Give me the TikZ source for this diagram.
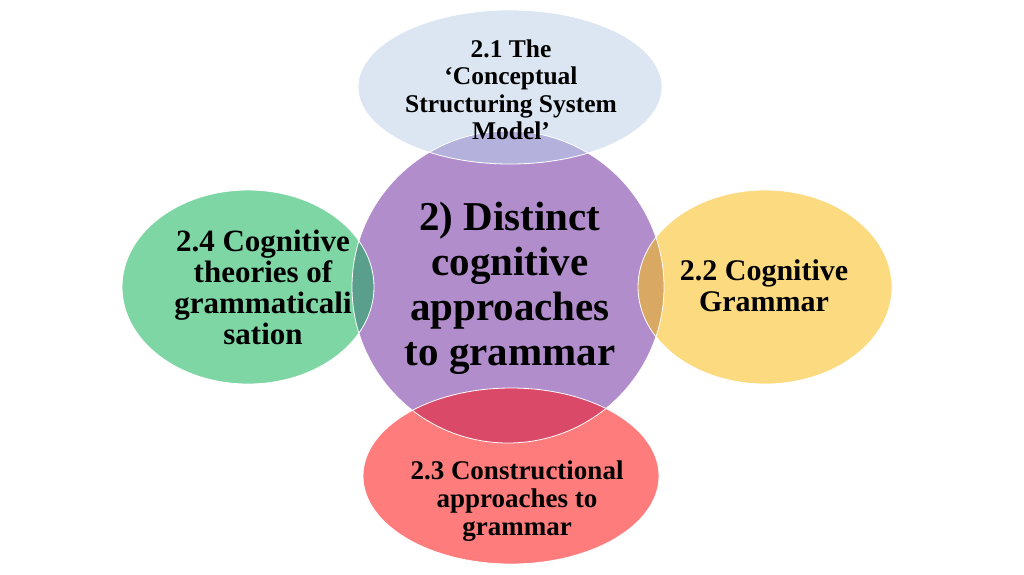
\documentclass[tikz,border=0pt]{standalone}
\usepackage{fontspec}
\setmainfont{Liberation Serif}
\definecolor{cpurple}{HTML}{B28DCC}
\definecolor{ctop}{HTML}{DCE6F2}
\definecolor{ctopov}{HTML}{B4B2DC}
\definecolor{cgreen}{HTML}{7FD6A5}
\definecolor{cgreenov}{HTML}{5A9E8C}
\definecolor{cyellow}{HTML}{FCDA7F}
\definecolor{cyellowov}{HTML}{D9A862}
\definecolor{cred}{HTML}{FF7C7C}
\definecolor{credov}{HTML}{DA4A68}
\tikzset{
  outline/.style={draw=white, line width=0.8pt},
  lbl/.style={align=center, text=black, inner sep=0pt},
}
\newcommand{\centerpath}{(508,287) circle [radius=156]}
\begin{document}
\begin{tikzpicture}[x=1pt,y=-1pt]
\useasboundingbox (0,0) rectangle (1024,574);
\fill[white] (0,0) rectangle (1024,574);
% centre circle
\fill[cpurple] \centerpath;
% satellites
\fill[ctop] (510,87) ellipse [x radius=152, y radius=77];
\fill[cgreen] (248,287) ellipse [x radius=126, y radius=97];
\fill[cyellow] (765,287) ellipse [x radius=127, y radius=97];
\fill[cred] (511,476) ellipse [x radius=148, y radius=88];
% overlaps
\begin{scope}\clip (510,87) ellipse [x radius=152, y radius=77]; \fill[ctopov] \centerpath; \end{scope}
\begin{scope}\clip (248,287) ellipse [x radius=126, y radius=97]; \fill[cgreenov] \centerpath; \end{scope}
\begin{scope}\clip (765,287) ellipse [x radius=127, y radius=97]; \fill[cyellowov] \centerpath; \end{scope}
\begin{scope}\clip (511,476) ellipse [x radius=148, y radius=88]; \fill[credov] \centerpath; \end{scope}
% outlines
\draw[outline] \centerpath;
\draw[outline] (510,87) ellipse [x radius=152, y radius=77];
\draw[outline] (248,287) ellipse [x radius=126, y radius=97];
\draw[outline] (765,287) ellipse [x radius=127, y radius=97];
\draw[outline] (511,476) ellipse [x radius=148, y radius=88];
% labels
\node[lbl, font=\fontsize{41}{45}\selectfont\bfseries] (centre) at (510,288)
  {2) Distinct\\cognitive\\approaches\\to grammar};
\node[lbl, font=\fontsize{25.5}{27.5}\selectfont\bfseries] (top) at (511,90)
  {2.1 The\\‘Conceptual\\Structuring System\\Model’};
\node[lbl, font=\fontsize{31}{31}\selectfont\bfseries] (left) at (263,287)
  {2.4 Cognitive\\theories of\\grammaticali\\sation};
\node[lbl, font=\fontsize{30}{31}\selectfont\bfseries] (right) at (764,286)
  {2.2 Cognitive\\Grammar};
\node[lbl, font=\fontsize{27}{28}\selectfont\bfseries] (bottom) at (517,501)
  {2.3 Constructional\\approaches to\\grammar};
\end{tikzpicture}
\end{document}
